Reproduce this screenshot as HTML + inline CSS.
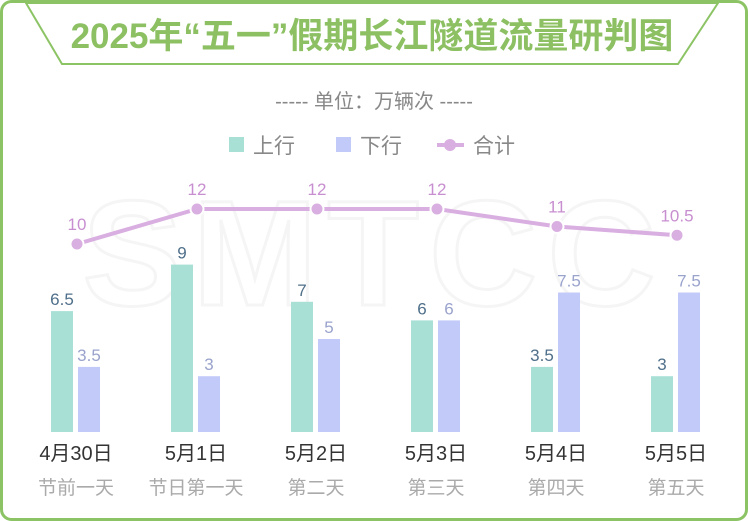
<!DOCTYPE html>
<html><head><meta charset="utf-8"><style>
body{margin:0;width:748px;height:521px;background:#fff;font-family:"Liberation Sans","Noto Sans CJK SC",sans-serif;overflow:hidden}
</style></head><body>
<svg width="748" height="521" style="position:absolute;left:0;top:0">
<rect x="1.5" y="1.5" width="745" height="518" rx="10" fill="#fff" stroke="#8cc465" stroke-width="3"/>
<polygon points="26,3 718,3 678,64 62,64" fill="#fff" stroke="#8cc465" stroke-width="2"/>
<text x="372" y="48" text-anchor="middle" font-size="35" font-weight="bold" fill="#8cc063">2025年“五一”假期长江隧道流量研判图</text>
<text x="374" y="108" text-anchor="middle" font-size="20" fill="#888">----- 单位：万辆次 -----</text>
<g font-size="21" fill="#888">
<rect x="229" y="137" width="15" height="15" fill="#a8e0d6"/>
<text x="253" y="153">上行</text>
<rect x="336" y="137" width="15" height="15" fill="#c2caf9"/>
<text x="360" y="153">下行</text>
<line x1="437" y1="145" x2="464" y2="145" stroke="#d9aee0" stroke-width="4"/>
<circle cx="450" cy="145" r="6" fill="#d9aee0"/>
<text x="473" y="153">合计</text>
</g>
<text x="374" y="305" text-anchor="middle" font-size="150" font-weight="bold" fill="none" stroke="#f5f5f5" stroke-width="3" letter-spacing="10">SMTCC</text>
<g id="plot"></g>
</svg>
<script>
const categories=["4月30日","5月1日","5月2日","5月3日","5月4日","5月5日"];
const subLabels=["节前一天","节日第一天","第二天","第三天","第四天","第五天"];
const upValues=[6.5,9,7,6,3.5,3];
const downValues=[3.5,3,5,6,7.5,7.5];
const totalValues=[10,12,12,12,11,10.5];
const NS="http://www.w3.org/2000/svg";
const g=document.getElementById('plot');
const base=432;
const xC=i=>77+120*i;
const yBar=v=>base-18.6*v;
const yLine=v=>419-17.5*v;
function mk(t,a){const e=document.createElementNS(NS,t);for(const k in a)e.setAttribute(k,a[k]);g.appendChild(e);return e;}
categories.forEach((c,i)=>{
  const cx=xC(i);
  let r=mk('rect',{x:cx-26,y:yBar(upValues[i]),width:22,height:base-yBar(upValues[i]),fill:'#a8e0d6'});
  
  
  let t=mk('text',{x:cx-15,y:yBar(upValues[i])-6,'text-anchor':'middle','font-size':17,fill:'#4f6f8a'});t.textContent=upValues[i];
  
  
  r=mk('rect',{x:cx+1,y:yBar(downValues[i]),width:22,height:base-yBar(downValues[i]),fill:'#c2caf9'});
  
  
  t=mk('text',{x:cx+12,y:yBar(downValues[i])-6,'text-anchor':'middle','font-size':17,fill:'#9aa3cc'});t.textContent=downValues[i];
  
  
  t=mk('text',{x:cx-1,y:460,'text-anchor':'middle','font-size':20,fill:'#333'});t.textContent=c;
  
  
  t=mk('text',{x:cx-1,y:494,'text-anchor':'middle','font-size':19,fill:'#aaa'});t.textContent=subLabels[i];
  
  
});
const pl=mk('polyline',{points:totalValues.map((v,i)=>xC(i)+','+yLine(v)).join(' '),fill:'none',stroke:'#d9aee0','stroke-width':4});


totalValues.forEach((v,i)=>{
  const c=mk('circle',{cx:xC(i),cy:yLine(v),r:6.5,fill:'#d9aee0',stroke:'#fff','stroke-width':2});
  
  
  const t=mk('text',{x:xC(i),y:yLine(v)-14,'text-anchor':'middle','font-size':17,fill:'#c88fd0'});t.textContent=v;
  
  
});
</script>
</body></html>
